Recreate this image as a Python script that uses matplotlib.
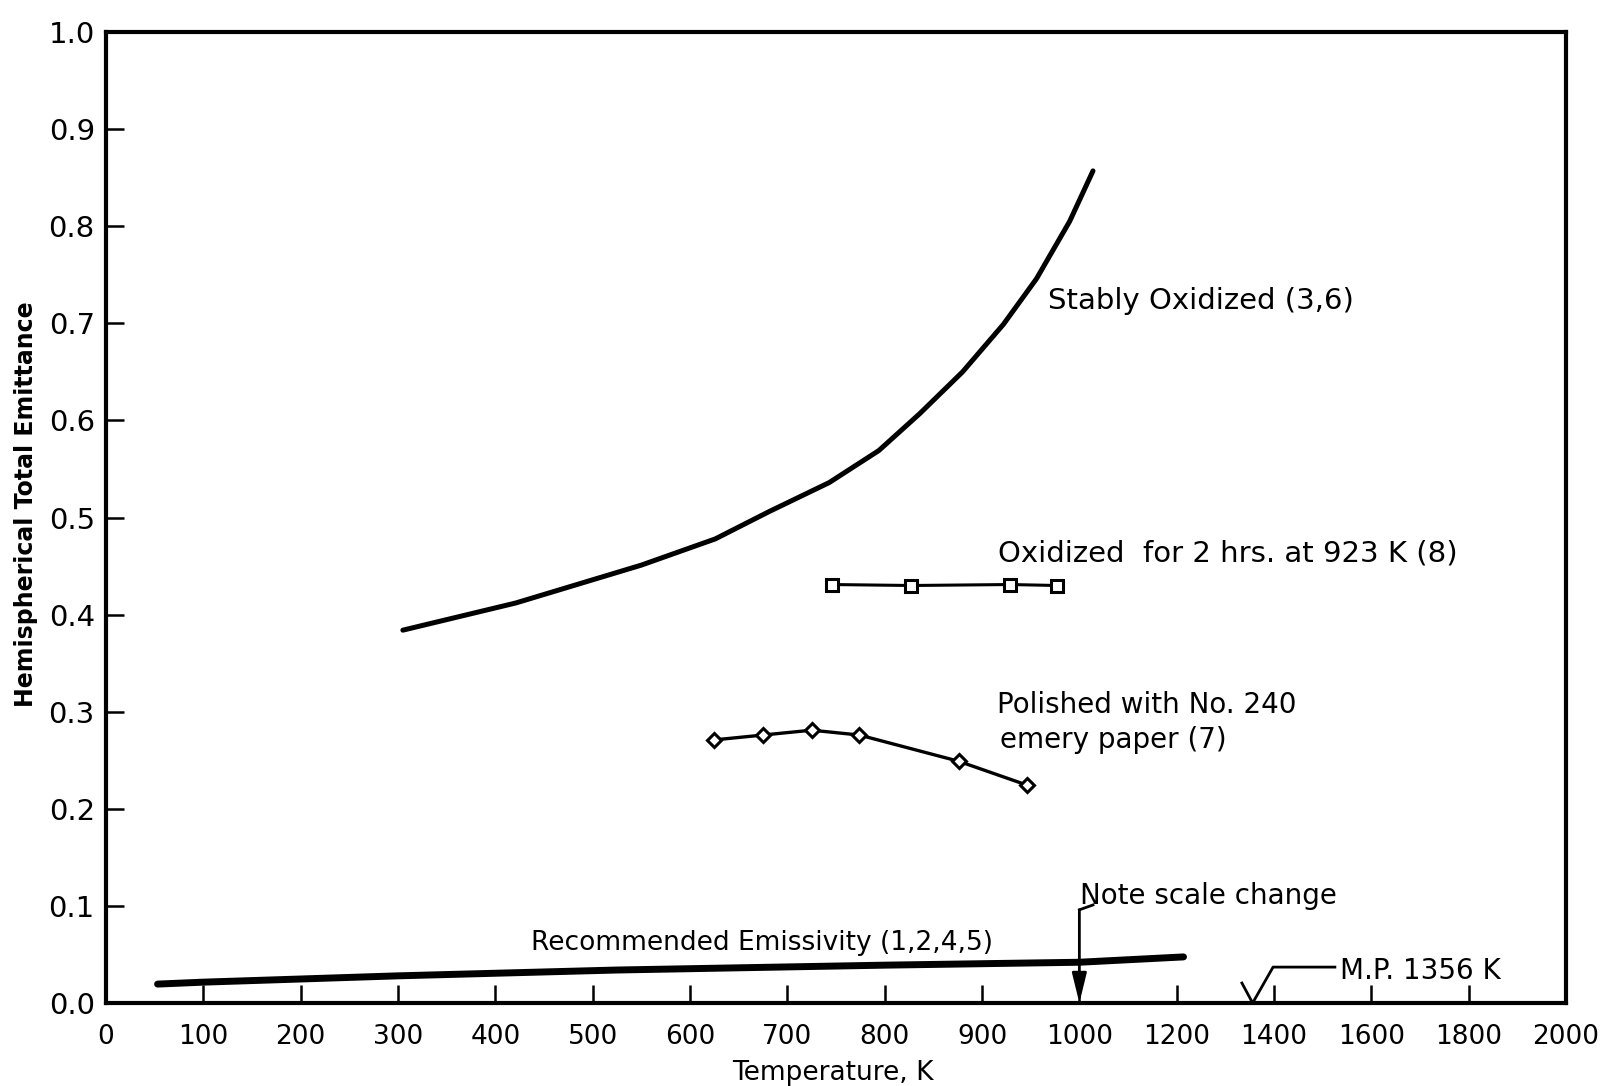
import numpy as np
import matplotlib
import matplotlib.pyplot as plt

matplotlib.use("Agg")

# stably oxidized (3,6)
stable_T = [305, 421, 550, 626, 681, 743, 794, 836, 880, 922, 956, 990, 1028]
stable_e = [0.384, 0.412, 0.451, 0.478, 0.506, 0.536, 0.569, 0.607, 0.650,
            0.699, 0.746, 0.805, 0.857]

# oxidized for 2 hrs at 923 K (8)
oxid_T = [746, 827, 929, 977]
oxid_e = [0.431, 0.430, 0.431, 0.430]

# polished with No. 240 emery paper (7)
polish_T = [625, 675, 725, 774, 876, 946]
polish_e = [0.271, 0.276, 0.281, 0.276, 0.249, 0.2245]

# recommended emissivity (1,2,4,5)
rec_T = [53, 100, 300, 525, 800, 1000, 1214]
rec_e = [0.0195, 0.0215, 0.028, 0.034, 0.039, 0.042, 0.0475]

x_ticks = [0, 100, 200, 300, 400, 500, 600, 700, 800, 900, 1000,
           1200, 1400, 1600, 1800, 2000]
y_ticks = [0.0, 0.1, 0.2, 0.3, 0.4, 0.5, 0.6, 0.7, 0.8, 0.9, 1.0]
melting_point = 1356


# scale changes at 1000 K: 100 K per division below, 200 K above
def fwd(t):
    t = np.asarray(t, dtype=float)
    return np.where(t <= 1000, t / 100.0, 10 + (t - 1000) / 200.0)


def inv(u):
    u = np.asarray(u, dtype=float)
    return np.where(u <= 10, u * 100.0, 1000 + (u - 10) * 200.0)


fig = plt.figure(figsize=(16.13, 10.86), dpi=100)
ax = fig.add_axes([0.0657, 0.0764, 0.9052, 0.8941])
ax.set_xscale("function", functions=(fwd, inv))
ax.set_xlim(0, 2000)
ax.set_ylim(0, 1.0)

ax.plot(stable_T, stable_e, color="black", lw=3.6, solid_capstyle="round",
        solid_joinstyle="round")
ax.plot(oxid_T, oxid_e, color="black", lw=2.2, marker="s", ms=8.5,
        mfc="white", mec="black", mew=2.2)
ax.plot(polish_T, polish_e, color="black", lw=2.4, marker="D", ms=7.5,
        mfc="white", mec="black", mew=2.2)
ax.plot(rec_T, rec_e, color="black", lw=5, solid_capstyle="round")

ax.set_xticks(x_ticks)
ax.set_xticklabels([str(t) for t in x_ticks])
ax.set_yticks(y_ticks)
ax.set_yticklabels(["%.1f" % v for v in y_ticks])
ax.minorticks_off()
ax.tick_params(direction="in", length=13, width=1.8)
ax.tick_params(axis="x", pad=15, labelsize=19)
ax.tick_params(axis="y", pad=8, labelsize=21)
for s in ax.spines.values():
    s.set_linewidth(3)

ax.set_xlabel("Temperature, K", fontsize=19)
ax.xaxis.set_label_coords(0.498, -0.0587)
ax.set_ylabel("Hemispherical Total Emittance", fontsize=17, fontweight="bold")
ax.yaxis.set_label_coords(-0.0466, 0.514)

fs = 20
ax.text(968, 0.723, "Stably Oxidized (3,6)", fontsize=21, va="center")
ax.text(916, 0.4625, "Oxidized  for 2 hrs. at 923 K (8)", fontsize=21,
        va="center")
ax.text(915, 0.307, "Polished with No. 240", fontsize=fs, va="center")
ax.text(918, 0.271, "emery paper (7)", fontsize=fs, va="center")
ax.text(437, 0.062, "Recommended Emissivity (1,2,4,5)", fontsize=19,
        va="center")
ax.text(1001, 0.11, "Note scale change", fontsize=fs, va="center")
ax.text(1536, 0.033, "M.P. 1356 K", fontsize=fs, va="center")

# leader for scale change
ax.plot([1000, 1028], [0.096, 0.101], color="black", lw=2)
ax.annotate("", xy=(1000, 0.0), xytext=(1000, 0.096),
            arrowprops=dict(arrowstyle="-|>,head_length=0.9,head_width=0.22",
                            lw=2, color="black", shrinkA=0, shrinkB=0,
                            mutation_scale=20))

# check mark at the melting point
ax.plot([1334, melting_point, 1398, 1525], [0.0206, 0.0, 0.037, 0.037],
        color="black", lw=2, clip_on=False)

fig.savefig("out.png", dpi=100, facecolor="white")
